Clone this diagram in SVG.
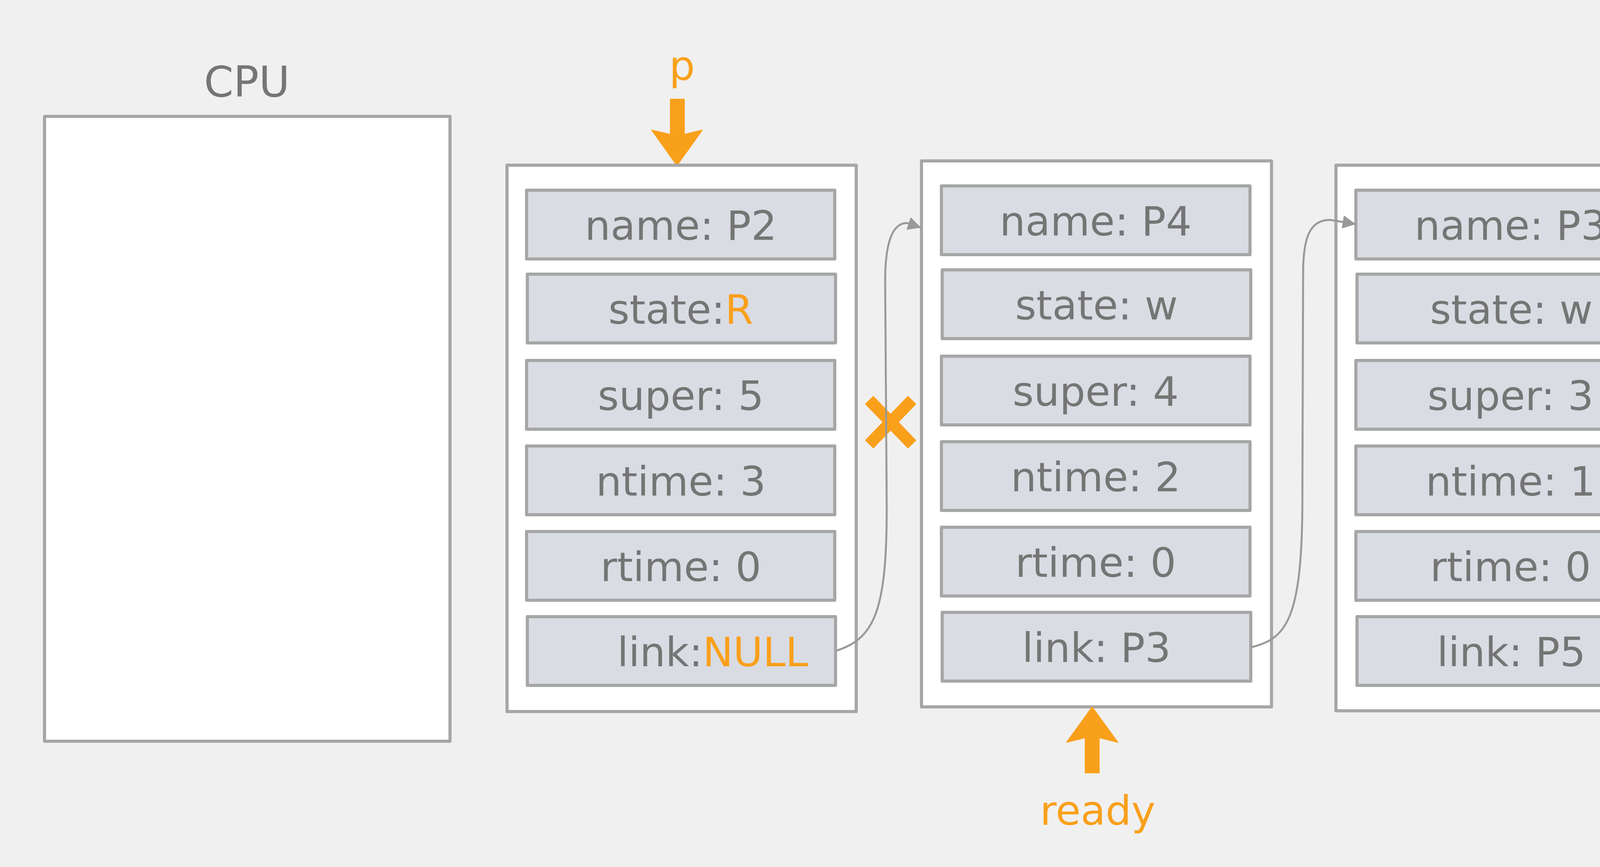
<svg xmlns="http://www.w3.org/2000/svg" width="6553" height="2220" viewBox="0 0 6553 2220">
<style>
.outer{fill:#ffffff;stroke:#a6a6a6;stroke-width:8;stroke-linejoin:round}
.cell{fill:#d9dce3;stroke:#a6a6a6;stroke-width:8;stroke-linejoin:round}
.t{font-family:"DejaVu Sans","Liberation Sans",sans-serif;font-size:104px;fill:#757575;text-anchor:middle}
.o{fill:#f9a01b}
.conn{fill:none;stroke:#999999;stroke-width:5;marker-end:url(#ah)}
</style>
<defs>
<marker id="ah" viewBox="0 0 34 34" refX="34" refY="17" markerWidth="34" markerHeight="34" markerUnits="userSpaceOnUse" orient="auto">
<path d="M0,0 L34,17 L0,34 z" fill="#999999"/>
</marker>
</defs>
<rect x="0" y="0" width="6553" height="2220" fill="#f0f0f0"/>

<g id="cpu">
<text class="t" x="632" y="247" style="font-size:108px">CPU</text>
<rect class="outer" x="114" y="298" width="1038" height="1600"/>
</g>

<g id="pointer-p">
<text class="t o" x="1746" y="204">p</text>
<path class="o" d="M1716,254 L1752,254 L1752,344 L1798,333 L1733,424 L1668,333 L1716,344 Z" stroke="#f9a01b" stroke-width="2" stroke-linejoin="round"/>
</g>

<g id="node-p2">
<rect class="outer" x="1298" y="423" width="894" height="1399"/>
<rect class="cell" x="1348" y="487" width="789" height="176"/>
<text class="t" x="1743" y="614">name: P2</text>
<rect class="cell" x="1350" y="702" width="789" height="176"/>
<text class="t" x="1743" y="829">state:<tspan class="o">R</tspan></text>
<rect class="cell" x="1348" y="923" width="789" height="176"/>
<text class="t" x="1743" y="1050">super: 5</text>
<rect class="cell" x="1348" y="1142" width="789" height="176"/>
<text class="t" x="1743" y="1269">ntime: 3</text>
<rect class="cell" x="1348" y="1361" width="789" height="176"/>
<text class="t" x="1743" y="1488">rtime: 0</text>
<rect class="cell" x="1350" y="1579" width="789" height="176"/>
<text class="t" x="1580" y="1706" style="text-anchor:start">link:<tspan class="o">NULL</tspan></text>
</g>

<g id="node-p4">
<rect class="outer" x="2359" y="412" width="896" height="1398"/>
<rect class="cell" x="2410" y="476" width="790" height="176"/>
<text class="t" x="2805" y="603">name: P4</text>
<rect class="cell" x="2412" y="691" width="790" height="176"/>
<text class="t" x="2807" y="818">state: w</text>
<rect class="cell" x="2410" y="912" width="790" height="176"/>
<text class="t" x="2805" y="1039">super: 4</text>
<rect class="cell" x="2410" y="1131" width="790" height="176"/>
<text class="t" x="2805" y="1258">ntime: 2</text>
<rect class="cell" x="2410" y="1350" width="790" height="176"/>
<text class="t" x="2805" y="1477">rtime: 0</text>
<rect class="cell" x="2412" y="1568" width="790" height="176"/>
<text class="t" x="2807" y="1695">link: P3</text>
</g>

<g id="pointer-ready">
<path class="o" d="M2778,1979 L2814,1979 L2814,1889 L2862,1901 L2796,1810 L2730,1901 L2778,1889 Z" stroke="#f9a01b" stroke-width="2" stroke-linejoin="round"/>
<text class="t o" x="2810" y="2112">ready</text>
</g>

<g id="node-p3">
<rect class="outer" x="3420" y="423" width="898" height="1397"/>
<rect class="cell" x="3471" y="487" width="791" height="176"/>
<text class="t" x="3867" y="614">name: P3</text>
<rect class="cell" x="3474" y="702" width="791" height="176"/>
<text class="t" x="3869" y="829">state: w</text>
<rect class="cell" x="3471" y="923" width="791" height="176"/>
<text class="t" x="3867" y="1050">super: 3</text>
<rect class="cell" x="3471" y="1142" width="791" height="176"/>
<text class="t" x="3867" y="1269">ntime: 1</text>
<rect class="cell" x="3471" y="1361" width="791" height="176"/>
<text class="t" x="3867" y="1488">rtime: 0</text>
<rect class="cell" x="3474" y="1579" width="791" height="176"/>
<text class="t" x="3869" y="1706">link: P5</text>
</g>

<g id="node-p5">
<rect class="outer" x="4483" y="423" width="896" height="1397"/>
<rect class="cell" x="4532" y="487" width="795" height="176"/>
<text class="t" x="4929" y="614">name: P5</text>
<rect class="cell" x="4535" y="702" width="795" height="176"/>
<text class="t" x="4932" y="829">state: w</text>
<rect class="cell" x="4532" y="923" width="795" height="176"/>
<text class="t" x="4929" y="1050">super: 2</text>
<rect class="cell" x="4532" y="1142" width="795" height="176"/>
<text class="t" x="4929" y="1269">ntime: 4</text>
<rect class="cell" x="4532" y="1361" width="795" height="176"/>
<text class="t" x="4929" y="1488">rtime: 0</text>
<rect class="cell" x="4535" y="1579" width="795" height="176"/>
<text class="t" x="4932" y="1706">link: P1</text>
</g>

<g id="node-p1">
<rect class="outer" x="5546" y="423" width="897" height="1397"/>
<rect class="cell" x="5596" y="487" width="791" height="176"/>
<text class="t" x="5991" y="614">name: P1</text>
<rect class="cell" x="5597" y="702" width="791" height="176"/>
<text class="t" x="5992" y="829">state: w</text>
<rect class="cell" x="5596" y="923" width="791" height="176"/>
<text class="t" x="5991" y="1050">super: 1</text>
<rect class="cell" x="5596" y="1142" width="791" height="176"/>
<text class="t" x="5991" y="1269">ntime: 2</text>
<rect class="cell" x="5596" y="1361" width="791" height="176"/>
<text class="t" x="5991" y="1488">rtime: 0</text>
<rect class="cell" x="5597" y="1579" width="791" height="176"/>
<text class="t" x="5992" y="1706">link: 0</text>
</g>

<g id="cut-mark">
<path d="M2225,1024 L2335,1138 M2335,1024 L2225,1138" stroke="#f9a01b" stroke-width="30" fill="none"/>
</g>

<g id="connectors">
<path class="conn" d="M2141,1666 C2240,1635 2270,1560 2270,1300 L2266,720 C2266,620 2285,571 2322,571 L2358,583"/>
<path class="conn" d="M3204,1657 C3290,1636 3332,1590 3334,1300 L3336,700 C3336,610 3352,563 3405,563 L3471,574"/>
<path class="conn" d="M4265,1667 C4350,1645 4398,1600 4400,1300 L4398,700 C4398,610 4415,571 4462,571 L4531,574"/>
<path class="conn" d="M5328,1667 C5410,1645 5462,1600 5463,1300 L5461,700 C5461,610 5478,571 5527,571 L5596,574"/>
</g>
</svg>
